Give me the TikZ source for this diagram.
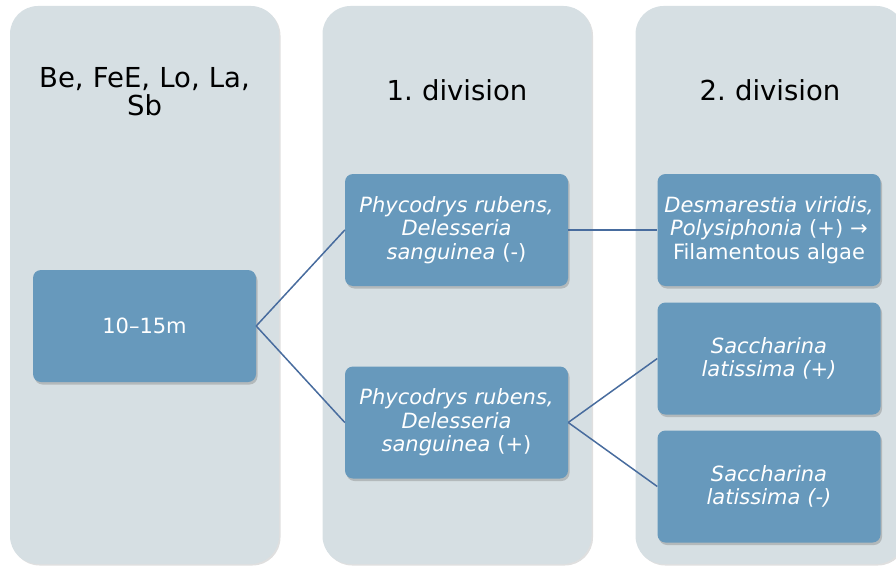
\documentclass[tikz,border=0pt]{standalone}
\usepackage{fontspec}
\setmainfont{DejaVu Sans}
\usetikzlibrary{shadows}
\definecolor{panelgray}{RGB}{214,223,227}
\definecolor{boxblue}{RGB}{103,153,188}
\definecolor{linkblue}{RGB}{72,108,158}
\frenchspacing
\begin{document}
\begin{tikzpicture}[x=1pt,y=-1pt,
	panel/.style={fill=panelgray, rounded corners=28pt, minimum width=269pt, minimum height=558pt,
		drop shadow={shadow xshift=1.5pt, shadow yshift=-1.5pt, opacity=.25}},
	head/.style={text width=262pt, align=center, font=\fontsize{27.5}{28}\selectfont},
	item/.style={fill=boxblue, text=white, rounded corners=8pt, minimum width=223pt, minimum height=112pt,
		text width=219pt, inner sep=2pt, align=center, font=\fontsize{21}{23.5}\selectfont,
		drop shadow={shadow xshift=1.5pt, shadow yshift=-2.5pt, opacity=.4}},
	link/.style={draw=linkblue, line width=1.5pt}]
		\useasboundingbox (0,0) rectangle (896,567);
		
		\node[panel] (c1) at (144.5,285) {};
		\node[panel] (c2) at (457,285) {};
		\node[panel] (c3) at (770,285) {};
		
		\node[head] (h1) at (144.5,92) {Be, FeE, Lo, La,\\Sb};
		\node[head] (h2) at (457,90) {1. division};
		\node[head] (h3) at (770,90) {2. division};
		
		\node[item] (depth) at (144.5,326) {10–15m};
		\node[item] (minus) at (456.5,230) {\textit{Phycodrys rubens,}\\\textit{Delesseria}\\\textit{sanguinea} (-)};
		\node[item] (plus) at (456.5,422.5) {\textit{Phycodrys rubens,}\\\textit{Delesseria}\\\textit{sanguinea} (+)};
		\node[item] (desm) at (769,230) {\textit{Desmarestia viridis,}\\\textit{Polysiphonia} (+) →\\Filamentous algae};
		\node[item] (sacp) at (769,358.5) {\textit{Saccharina}\\\textit{latissima (+)}};
		\node[item] (sacm) at (769,486.5) {\textit{Saccharina}\\\textit{latissima (-)}};
		
		\draw[link] (depth.east) -- (minus.west);
		\draw[link] (depth.east) -- (plus.west);
		\draw[link] (minus.east) -- (desm.west);
		\draw[link] (plus.east) -- (sacp.west);
		\draw[link] (plus.east) -- (sacm.west);
	\end{tikzpicture}
\end{document}
